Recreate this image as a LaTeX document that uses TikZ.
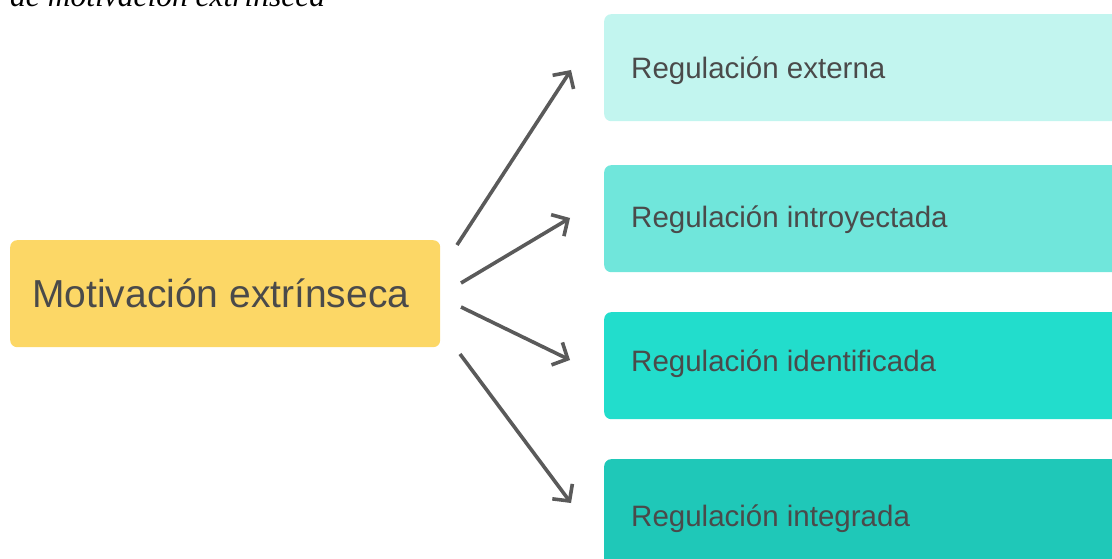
\documentclass[tikz,border=0pt]{standalone}
\usepackage{fontspec}
\newfontfamily\arialf{Liberation Sans}
\newfontfamily\timesf{Liberation Serif}
\usetikzlibrary{arrows.meta}
\definecolor{ybox}{HTML}{FCD766}
\definecolor{tone}{HTML}{C2F5EF}
\definecolor{ttwo}{HTML}{70E6DB}
\definecolor{tthree}{HTML}{22DDCC}
\definecolor{tfour}{HTML}{1FC8B8}
\definecolor{txtgray}{HTML}{4A4A4A}
\definecolor{arrgray}{HTML}{5A5A5A}
\tikzset{
  boxshape/.style={draw=none, rounded corners=7pt, inner sep=0pt, anchor=north west},
  bigtxt/.style={anchor=base west, inner sep=0pt, text=txtgray, font=\arialf\fontsize{39}{46}\selectfont},
  regtxt/.style={anchor=base west, inner sep=0pt, text=txtgray, font=\arialf\fontsize{29.5}{35}\selectfont},
  conn/.style={draw=arrgray, line width=3.6pt, -{Straight Barb[length=12pt,width=25pt,line width=3.6pt]}}
}
\begin{document}
\begin{tikzpicture}[x=1pt,y=-1pt]
\useasboundingbox (0,0) rectangle (1112,559);
\clip (0,0) rectangle (1112,559);
% title fragment
\node[anchor=base west, inner sep=0pt, font=\timesf\itshape\fontsize{31.5}{36}\selectfont] (title) at (10,7) {de motivación extrínseca};
% left box
\node[boxshape, fill=ybox, minimum width=430pt, minimum height=107pt] (m) at (10,240) {};
\node[bigtxt] (mt) at (32,307) {Motivación extrínseca};
% right boxes
\node[boxshape, fill=tone, minimum width=540pt, minimum height=107pt] (r1) at (604,14) {};
\node[boxshape, fill=ttwo, minimum width=540pt, minimum height=107pt] (r2) at (604,165) {};
\node[boxshape, fill=tthree, minimum width=540pt, minimum height=107pt] (r3) at (604,312) {};
\node[boxshape, fill=tfour, minimum width=540pt, minimum height=120pt] (r4) at (604,459) {};
\node[regtxt] (t1) at (631,79) {Regulación externa};
\node[regtxt] (t2) at (631,227) {Regulación introyectada};
\node[regtxt] (t3) at (631,371) {Regulación identificada};
\node[regtxt] (t4) at (631,526) {Regulación integrada};
% connectors
\coordinate (s1) at (457,245);
\coordinate (s2) at (461,283);
\coordinate (s3) at (461,307);
\coordinate (s4) at (460,354);
\coordinate (e1) at (571,70);
\coordinate (e2) at (570,218);
\coordinate (e3) at (570,360);
\coordinate (e4) at (571,503);
\draw[conn] (s1) -- (e1);
\draw[conn] (s2) -- (e2);
\draw[conn] (s3) -- (e3);
\draw[conn] (s4) -- (e4);
\end{tikzpicture}
\end{document}
